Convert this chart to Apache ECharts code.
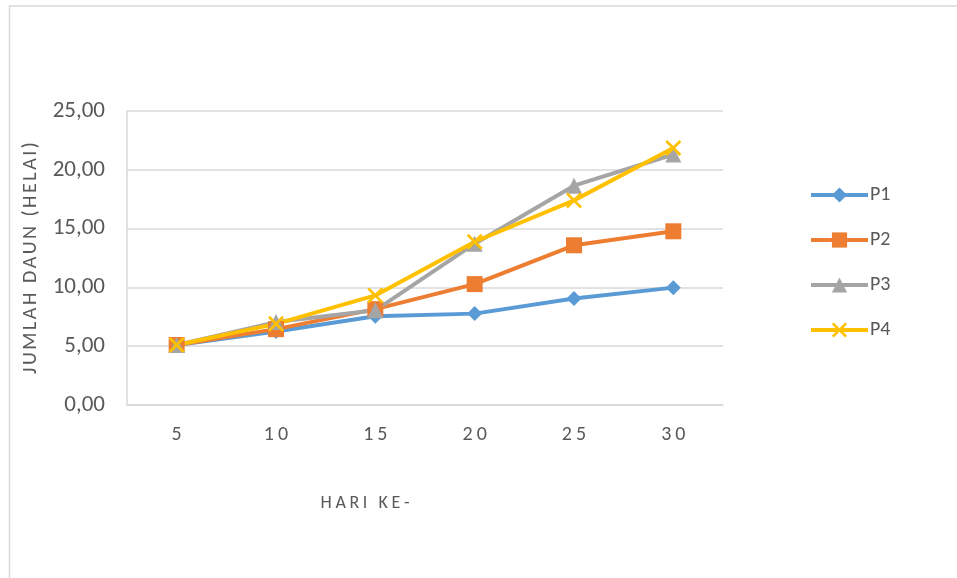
<!DOCTYPE html>
<html>
<head>
<meta charset="utf-8">
<script src="https://cdn.jsdelivr.net/npm/echarts@6/dist/echarts.min.js"></script>
<style>
  html, body { margin: 0; padding: 0; background: #ffffff; }
  #chart { width: 957px; height: 578px; }
</style>
</head>
<body>
<div id="chart"></div>
<script>
// Observation days
var days = ['5', '10', '15', '20', '25', '30'];

// Leaf counts per treatment
var p1 = [5.10, 6.25, 7.55, 7.77, 9.05, 9.98];
var p2 = [5.10, 6.45, 8.15, 10.28, 13.58, 14.77];
var p3 = [5.10, 7.05, 8.05, 13.72, 18.65, 21.30];
var p4 = [5.10, 6.90, 9.32, 13.88, 17.40, 21.85];

var seriesNames = ['P1', 'P2', 'P3', 'P4'];
var yTicks = [0, 5, 10, 15, 20, 25];

var FONT = "Carlito, 'Open Sans', 'Noto Sans', sans-serif";
var TEXT = '#595959';
var GRID = '#d9d9d9';

var crossPath = 'path://M0,1.2L1.2,0L5,3.8L8.8,0L10,1.2L6.2,5L10,8.8L8.8,10L5,6.2L1.2,10L0,8.8L3.8,5Z';

// widen the tracking of a label by putting a narrow space between its letters
function spaced(s, gap) {
  return String(s).split('').join(gap || '\u2009');
}

function makeSeries(name, data, color, symbol, size) {
  return {
    name: name,
    type: 'line',
    data: data,
    symbol: symbol,
    symbolSize: size,
    showSymbol: true,
    lineStyle: { color: color, width: 4 },
    itemStyle: { color: color },
    emphasis: { disabled: true },
    animation: false
  };
}

var chart = echarts.init(document.getElementById('chart'), null, { renderer: 'canvas' });

chart.setOption({
  backgroundColor: '#ffffff',
  animation: false,
  grid: { left: 127, right: 234, top: 111, bottom: 173, containLabel: false },
  graphic: [
    {
      type: 'rect',
      shape: { x: 9.5, y: 6, width: 1200, height: 1000 },
      style: { fill: 'none', stroke: GRID, lineWidth: 1.5 },
      silent: true
    },
    {
      type: 'text',
      x: 365, y: 503,
      style: {
        text: spaced('HARI KE-'),
        font: '18px ' + FONT,
        fill: TEXT,
        textAlign: 'center',
        textVerticalAlign: 'middle'
      },
      silent: true
    }
  ],
  legend: {
    data: seriesNames,
    orient: 'vertical',
    left: 804,
    top: 180,
    itemWidth: 57,
    itemHeight: 19,
    itemGap: 25,
    lineStyle: { width: 4 },
    textStyle: { color: TEXT, fontSize: 20, fontFamily: FONT, padding: [0, 0, 0, -3] },
    selectedMode: false
  },
  xAxis: {
    type: 'category',
    data: days,
    boundaryGap: true,
    axisLine: { show: true, lineStyle: { color: GRID, width: 1.5 } },
    axisTick: { show: false },
    axisLabel: {
      color: TEXT,
      fontSize: 20,
      fontFamily: FONT,
      margin: 20,
      formatter: function (v) { return spaced(v); }
    },
    splitLine: { show: false }
  },
  yAxis: {
    type: 'value',
    min: yTicks[0],
    max: yTicks[yTicks.length - 1],
    interval: 5,
    name: spaced('JUMLAH DAUN (HELAI)', '\u200A'),
    nameLocation: 'middle',
    nameRotate: 90,
    nameGap: 86,
    nameTextStyle: { color: TEXT, fontSize: 20, fontFamily: FONT },
    axisLine: { show: true, lineStyle: { color: GRID, width: 1.5 } },
    axisTick: { show: false },
    axisLabel: {
      color: TEXT,
      fontSize: 23,
      fontFamily: FONT,
      margin: 22,
      formatter: function (v) { return v.toFixed(2).replace('.', ','); }
    },
    splitLine: { show: true, lineStyle: { color: GRID, width: 1.5 } }
  },
  series: [
    makeSeries('P1', p1, '#5B9BD5', 'diamond', 15),
    makeSeries('P2', p2, '#ED7D31', 'rect', 16),
    makeSeries('P3', p3, '#A5A5A5', 'triangle', 16),
    makeSeries('P4', p4, '#FFC000', crossPath, 16)
  ]
});
</script>
</body>
</html>
